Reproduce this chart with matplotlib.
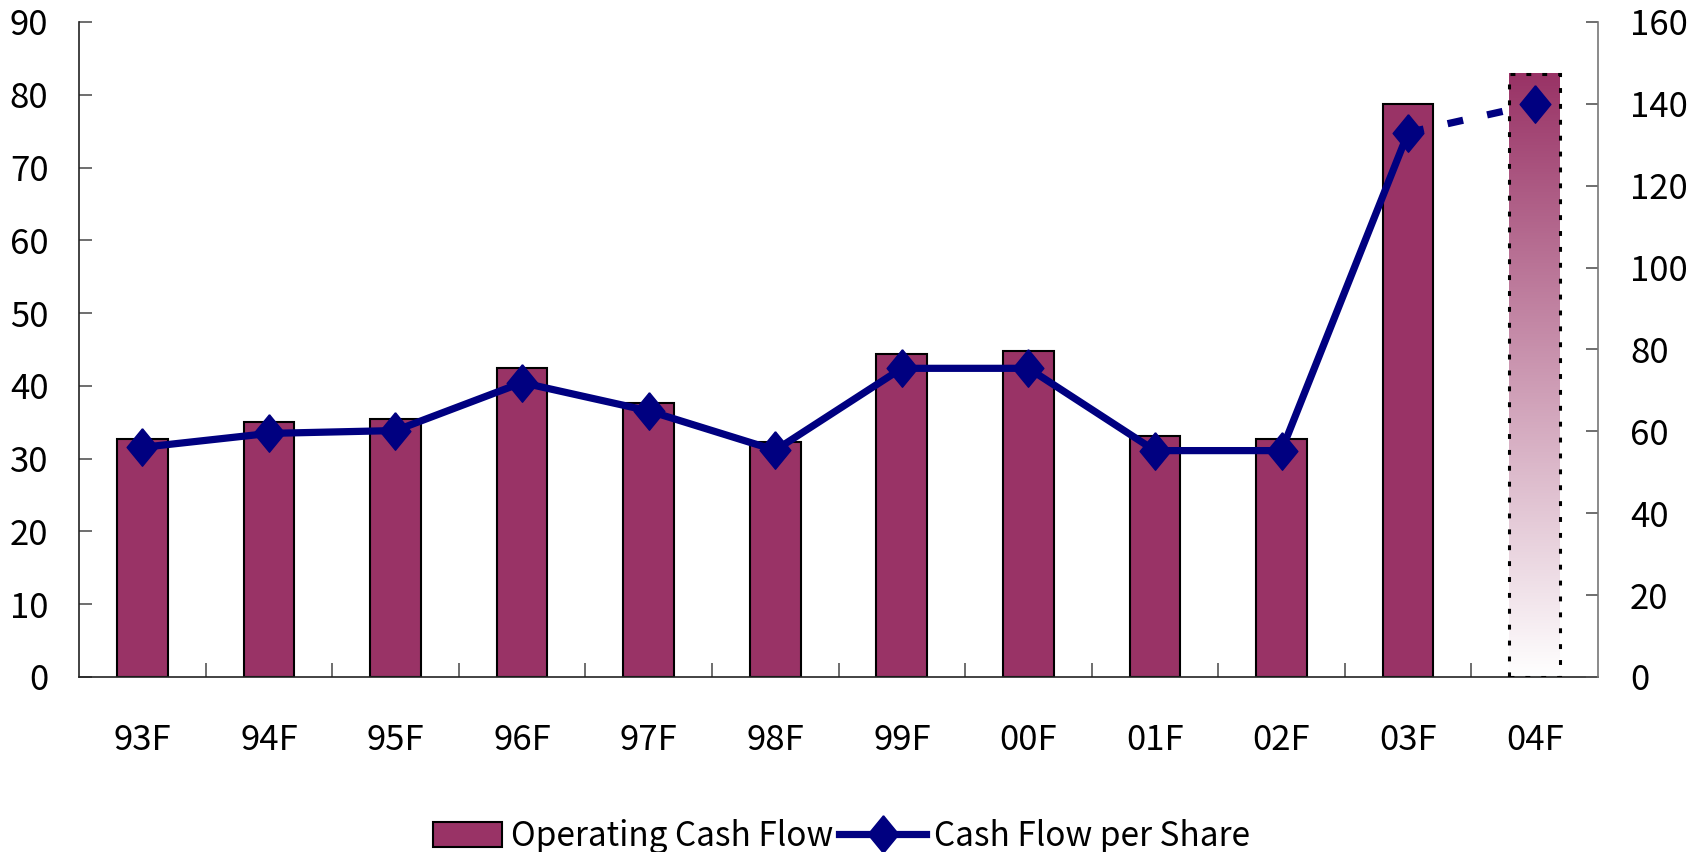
import matplotlib
matplotlib.use("Agg")
import matplotlib.pyplot as plt
import numpy as np
from matplotlib.colors import LinearSegmentedColormap
from matplotlib.legend_handler import HandlerPatch
from matplotlib.lines import Line2D
from matplotlib.patches import Patch, Rectangle

plt.rcParams['font.family'] = ['Noto Sans CJK JP', 'DejaVu Sans']

years = ["93F", "94F", "95F", "96F", "97F", "98F",
         "99F", "00F", "01F", "02F", "03F", "04F"]
operating_cf = [32.7, 35.1, 35.4, 42.4, 37.7, 32.3,
                44.4, 44.8, 33.1, 32.7, 78.7, 82.9]
cf_per_share = [56.1, 59.5, 60.2, 71.9, 65.0, 55.4,
                75.4, 75.4, 55.3, 55.3, 133.0, 139.9]
left_ticks = list(range(0, 91, 10))
right_ticks = list(range(0, 161, 20))

BAR = "#993366"
LINE = "#000080"
DIAMOND = [(0, 1), (0.82, 0), (0, -1), (-0.82, 0), (0, 1)]


def narrow_patch(legend, orig_handle, xdescent, ydescent,
                 width, height, fontsize):
    # legend swatch a bit shorter than the line handle
    return Rectangle((-xdescent + 0.2 * width, -ydescent),
                     0.8 * width, height)


def main():
    fig = plt.figure(figsize=(17, 8.52), dpi=100)
    ax = fig.add_axes([0.0465, 0.2054, 0.8935, 0.7688])
    ax2 = ax.twinx()

    x = np.arange(len(years))
    width = 0.4

    # actual years
    ax.bar(x[:-1], operating_cf[:-1], width, color=BAR,
           edgecolor="black", linewidth=1.5, zorder=2)

    # forecast year: faded fill with a dotted outline
    fade = LinearSegmentedColormap.from_list("fade", ["white", BAR])
    last = x[-1]
    ax.imshow(np.linspace(0, 1, 256).reshape(-1, 1), cmap=fade,
              origin="lower", aspect="auto", interpolation="bilinear",
              extent=(last - width / 2, last + width / 2, 0, operating_cf[-1]),
              zorder=2)
    ax.bar(last, operating_cf[-1], width, fill=False, edgecolor="black",
           linewidth=2.2, linestyle=(0, (1.6, 3.6)), zorder=3)

    # cash flow per share on the right axis
    ax2.plot(x[-2:], cf_per_share[-2:], color=LINE, linewidth=5.2,
             dashes=(2.2, 3.4), zorder=3)
    ax2.plot(x[:-1], cf_per_share[:-1], color=LINE, linewidth=5.2,
             marker=DIAMOND, markersize=27, markeredgecolor=LINE,
             solid_joinstyle="round", zorder=4)
    ax2.plot(x[-1:], cf_per_share[-1:], linestyle="none", marker=DIAMOND,
             markersize=27, color=LINE, markeredgecolor=LINE, zorder=4)

    ax.set_xlim(-0.5, len(years) - 0.5)
    ax.set_ylim(0, 90)
    ax2.set_ylim(0, 160)
    ax.set_yticks(left_ticks)
    ax2.set_yticks(right_ticks)
    ax.set_xticks(x)
    ax.set_xticklabels(years)
    ax.set_xticks(x[:-1] + 0.5, minor=True)

    ax.tick_params(axis="y", direction="in", length=9, width=1.2,
                   color="#555555", pad=22, labelsize=25)
    ax2.tick_params(axis="y", direction="in", length=9, width=1.2,
                    color="#555555", pad=23, labelsize=25)
    ax.tick_params(axis="x", which="major", length=0, pad=33, labelsize=25)
    ax.tick_params(axis="x", which="minor", direction="in", length=10,
                   width=1.2, color="#555555")

    for a in (ax, ax2):
        a.spines["top"].set_visible(False)
    ax.spines["right"].set_visible(False)
    ax2.spines["left"].set_visible(False)
    ax2.spines["bottom"].set_visible(False)
    ax.spines["left"].set_color("#222222")
    ax.spines["left"].set_linewidth(1.2)
    ax.spines["bottom"].set_color("#222222")
    ax.spines["bottom"].set_linewidth(1.2)
    ax2.spines["right"].set_color("#777777")
    ax2.spines["right"].set_linewidth(1.2)

    bar_handle = Patch(facecolor=BAR, edgecolor="black", linewidth=1.5)
    line_handle = Line2D([], [], color=LINE, linewidth=5.2, marker=DIAMOND,
                         markersize=27, markeredgecolor=LINE)
    fig.legend([bar_handle, line_handle],
               ["Operating Cash Flow", "Cash Flow per Share"],
               handler_map={Patch: HandlerPatch(patch_func=narrow_patch)},
               loc="center", bbox_to_anchor=(0.490, 0.018), ncol=2,
               frameon=False, fontsize=24, handlelength=2.6,
               handleheight=0.8, handletextpad=0.25, columnspacing=0.2)

    fig.savefig("out.png", dpi=100)


if __name__ == "__main__":
    main()
